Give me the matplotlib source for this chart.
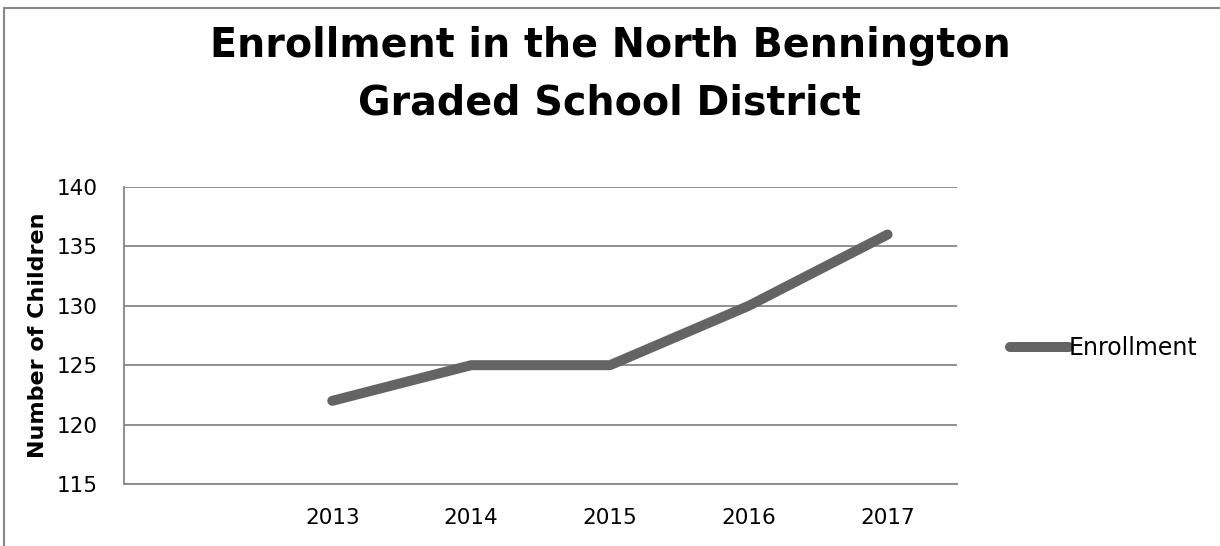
import matplotlib
matplotlib.use("Agg")
import matplotlib.pyplot as plt
from matplotlib.patches import Rectangle

years = [2013, 2014, 2015, 2016, 2017]
enrollment = [122, 125, 125, 130, 136]
yticks = [115, 120, 125, 130, 135, 140]
title = "Enrollment in the North Bennington\nGraded School District"
ylabel = "Number of Children"
series_name = "Enrollment"

W, H = 1220, 546
fig = plt.figure(figsize=(W / 100, H / 100), dpi=100)
plt.rcParams['font.family'] = ['DejaVu Sans']

ax = fig.add_axes([124 / W, 1 - 484 / H, (957 - 124) / W, (484 - 187) / H])

grid_c = "#878787"
ax.plot(years, enrollment, color="#646464", lw=7.2, solid_capstyle="round",
        solid_joinstyle="round", label=series_name, zorder=3)

ax.set_xlim(2011.5, 2017.5)
ax.set_ylim(115, 140)
ax.set_xticks(years)
ax.set_xticklabels([str(y) for y in years])
ax.set_yticks(yticks)
ax.yaxis.grid(True, color=grid_c, lw=1.3)
ax.set_axisbelow(True)
for s in ["top", "right"]:
    ax.spines[s].set_visible(False)
for s in ["left", "bottom"]:
    ax.spines[s].set_color(grid_c)
    ax.spines[s].set_linewidth(1.3)
ax.tick_params(axis="both", length=0, labelsize=15.5, colors="black")
ax.tick_params(axis="y", pad=19)
ax.tick_params(axis="x", pad=17)

ax.set_ylabel(ylabel, fontsize=16, fontweight="bold", labelpad=6)

fig.text(0.5, 1 - 75 / H, title, ha="center", va="center", fontsize=28.5,
         fontweight="bold", linespacing=1.55)

leg = ax.legend(loc="center left", bbox_to_anchor=(1010 / W, 1 - 348 / H),
                bbox_transform=fig.transFigure, frameon=False, fontsize=17,
                handlelength=2.5, handletextpad=0.0, borderpad=0, borderaxespad=0)

fig.patches.append(Rectangle((4 / W, -0.1), 1.2, 1.1 - 8 / H, transform=fig.transFigure,
                             fill=False, edgecolor=grid_c, lw=1.5))

fig.savefig("out.png", dpi=100)
